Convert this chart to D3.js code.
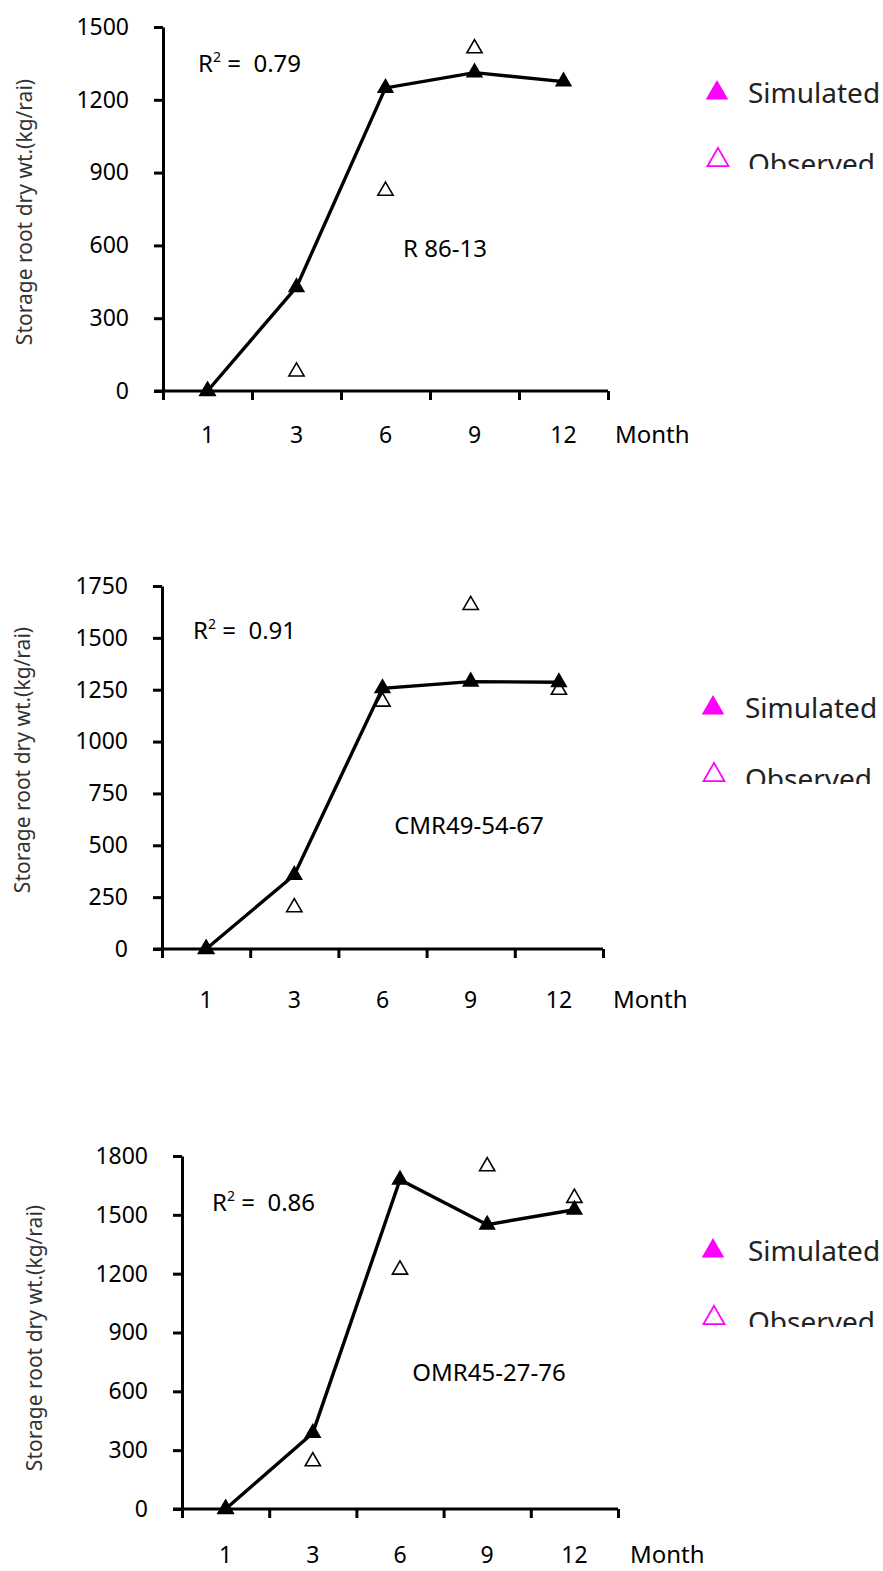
<!DOCTYPE html>
<html>
<head>
<meta charset="utf-8">
<script src="https://cdn.jsdelivr.net/npm/d3@7"></script>
<style>
  body { margin: 0; background: #fff; }
  svg { display: block; font-family: "Noto Sans", "Open Sans", sans-serif; }
</style>
</head>
<body>
<svg id="chart" width="883" height="1571"></svg>
<script>
// data
const months = ["1", "3", "6", "9", "12"];
const varieties = ["R 86-13", "CMR49-54-67", "OMR45-27-76"];
const r2Values = ["0.79", "0.91", "0.86"];

const simR8613 = [0, 428, 1249, 1312, 1275];
const obsR8613 = [0, 80, 825, 1412, null];
const simCMR = [0, 357, 1257, 1289, 1286];
const obsCMR = [0, 201, 1192, 1658, 1249];
const simOMR = [0, 388, 1679, 1450, 1526];
const obsOMR = [0, 243, 1220, 1747, 1586];

const yTicksR8613 = [0, 300, 600, 900, 1200, 1500];
const yTicksCMR = [0, 250, 500, 750, 1000, 1250, 1500, 1750];
const yTicksOMR = [0, 300, 600, 900, 1200, 1500, 1800];

const legendLabels = ["Simulated", "Observed"];
const yTitle = "Storage root dry wt.(kg/rai)";
const xTitle = "Month";

// layout of the three panels (pixels)
const panels = [
  { sim: simR8613, obs: obsR8613, ticks: yTicksR8613,
    x0: 163, x1: 608, yTop: 27, yBot: 391,
    r2: [198, 72], name: [445, 257], yLab: [24, 212], xLabY: 443, monthX: 615,
    leg: { tx: 717, ty: 93, lx: 748, oy: 160, clip: 169 } },
  { sim: simCMR, obs: obsCMR, ticks: yTicksCMR,
    x0: 162, x1: 603, yTop: 586, yBot: 949,
    r2: [193, 639], name: [469, 834], yLab: [22, 760], xLabY: 1008, monthX: 613,
    leg: { tx: 713, ty: 708, lx: 745, oy: 775, clip: 784 } },
  { sim: simOMR, obs: obsOMR, ticks: yTicksOMR,
    x0: 182, x1: 618, yTop: 1156, yBot: 1509,
    r2: [212, 1211], name: [489, 1381], yLab: [34, 1338], xLabY: 1563, monthX: 630,
    leg: { tx: 713, ty: 1251, lx: 748, oy: 1318, clip: 1327 } }
];

const svg = d3.select("#chart");
const tri = d3.symbol().type(d3.symbolTriangle);
const magenta = "#ff00ff";
const font = "'Noto Sans', sans-serif";

panels.forEach((p, i) => {
  const g = svg.append("g");
  const x = d3.scaleBand().domain(months).range([p.x0, p.x1]).padding(0);
  const xEdge = d3.scaleLinear().domain([0, months.length]).range([p.x0, p.x1]);
  const y = d3.scaleLinear().domain([0, d3.max(p.ticks)]).range([p.yBot, p.yTop]);

  // y axis
  const ya = g.append("g")
    .attr("transform", `translate(${p.x0},0)`)
    .call(d3.axisLeft(y).tickValues(p.ticks).tickFormat(d3.format("d"))
      .tickSize(9).tickPadding(25).tickSizeOuter(0));
  ya.attr("font-family", font).attr("font-size", 23);
  ya.select(".domain").attr("stroke", "#000").attr("stroke-width", 3);
  ya.selectAll(".tick line").attr("stroke", "#000").attr("stroke-width", 3);
  ya.selectAll(".tick text").attr("fill", "#000");

  // x axis: ticks on band edges, labels at band centres
  const xa = g.append("g")
    .attr("transform", `translate(0,${p.yBot})`)
    .call(d3.axisBottom(xEdge).tickValues(d3.range(months.length + 1)).tickFormat("").tickSize(9).tickSizeOuter(0));
  xa.select(".domain").attr("stroke", "#000").attr("stroke-width", 3)
    .attr("d", `M${p.x0 - 9},0H${p.x1}`);
  xa.selectAll(".tick line").attr("stroke", "#000").attr("stroke-width", 3);

  g.selectAll(".xlab").data(months).enter().append("text")
    .attr("x", d => x(d) + x.bandwidth() / 2)
    .attr("y", p.xLabY)
    .attr("text-anchor", "middle")
    .attr("font-size", 23)
    .text(d => d);

  g.append("text").attr("x", p.monthX).attr("y", p.xLabY)
    .attr("font-size", 24).text(xTitle);

  g.append("text")
    .attr("transform", `translate(${p.yLab[0] + 8},${p.yLab[1]}) rotate(-90)`)
    .attr("text-anchor", "middle")
    .attr("font-size", 21)
    .attr("fill", "#333")
    .text(yTitle);

  // simulated line
  const pts = months.map((m, k) => ({ m, v: p.sim[k] }));
  g.append("path").datum(pts)
    .attr("fill", "none").attr("stroke", "#000").attr("stroke-width", 3.4)
    .attr("d", d3.line().x(d => x(d.m) + x.bandwidth() / 2).y(d => y(d.v)));

  g.selectAll(".sim").data(pts).enter().append("path")
    .attr("transform", d => `translate(${x(d.m) + x.bandwidth() / 2},${y(d.v)})`)
    .attr("d", tri.size(130)())
    .attr("fill", "#000");

  const obs = months.map((m, k) => ({ m, v: p.obs[k] })).filter(d => d.v != null);
  g.selectAll(".obs").data(obs).enter().append("path")
    .attr("transform", d => `translate(${x(d.m) + x.bandwidth() / 2},${y(d.v)})`)
    .attr("d", tri.size(100)())
    .attr("fill", "none").attr("stroke", "#000").attr("stroke-width", 1.6);

  // annotations
  const r = g.append("text").attr("x", p.r2[0]).attr("y", p.r2[1])
    .attr("font-size", 24).style("white-space", "pre");
  r.append("tspan").text("R");
  r.append("tspan").attr("dy", -10).attr("font-size", 14).text("2");
  r.append("tspan").attr("dy", 10).text(" =  " + r2Values[i]);

  g.append("text").attr("x", p.name[0]).attr("y", p.name[1])
    .attr("text-anchor", "middle").attr("font-size", 24).text(varieties[i]);

  // legend (bottom clipped as in the source figure)
  const L = p.leg;
  svg.append("clipPath").attr("id", "lc" + i)
    .append("rect").attr("x", 640).attr("y", L.ty - 40).attr("width", 243).attr("height", L.clip - L.ty + 40);
  const lg = g.append("g").attr("clip-path", `url(#lc${i})`);
  lg.append("path").attr("transform", `translate(${L.tx},${L.ty})`)
    .attr("d", d3.symbol().type(d3.symbolTriangle).size(220)()).attr("fill", magenta);
  lg.append("path").attr("transform", `translate(${L.tx + 1},${L.oy})`)
    .attr("d", d3.symbol().type(d3.symbolTriangle).size(190)())
    .attr("fill", "none").attr("stroke", magenta).attr("stroke-width", 1.8);
  lg.selectAll(".lt").data(legendLabels).enter().append("text")
    .attr("x", L.lx)
    .attr("y", (d, k) => k === 0 ? L.ty + 10 : L.oy + 14)
    .attr("font-size", 28).attr("fill", "#222")
    .text(d => d);
});
</script>
</body>
</html>
